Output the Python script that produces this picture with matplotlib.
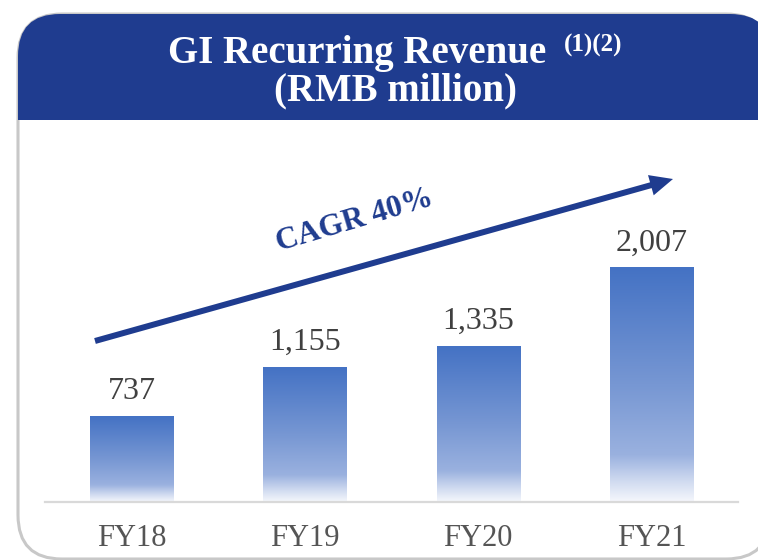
import matplotlib
matplotlib.use("Agg")
import matplotlib.pyplot as plt
import numpy as np
from matplotlib.patches import FancyBboxPatch, Rectangle, FancyArrow
from matplotlib.colors import LinearSegmentedColormap

# ---- data ----
categories = ["FY18", "FY19", "FY20", "FY21"]
revenue = [737, 1155, 1335, 2007]
title_main = "GI Recurring Revenue"
title_sup = "(1)(2)"
title_unit = "(RMB million)"
cagr_label = "CAGR 40%"

NAVY = "#1F3C8F"
SERIF = "Liberation Serif"

fig = plt.figure(figsize=(7.58, 5.60), dpi=100)

# background / decoration axes in pixel coordinates
bg = fig.add_axes([0, 0, 1, 1], zorder=0)
bg.set_xlim(0, 758)
bg.set_ylim(560, 0)
bg.axis("off")

# outer rounded gray frame
bg.add_patch(FancyBboxPatch((18, 14), 752, 545,
                            boxstyle="round,pad=0,rounding_size=44",
                            ec="#c8c8c8", fc="white", lw=2.2))
# header
bg.add_patch(FancyBboxPatch((18, 14), 754, 106,
                            boxstyle="round,pad=0,rounding_size=42",
                            ec="none", fc=NAVY))
bg.add_patch(Rectangle((18, 70), 754, 50, ec="none", fc=NAVY))

bg.text(357, 63, title_main, color="white", fontsize=28, fontweight="bold",
        family=SERIF, ha="center", va="baseline")
bg.text(564, 52, title_sup, color="white", fontsize=18, fontweight="bold",
        family=SERIF, ha="left", va="baseline")
bg.text(395, 100, title_unit, color="white", fontsize=28, fontweight="bold",
        family=SERIF, ha="center", va="baseline")

# CAGR arrow
bg.add_patch(FancyArrow(95, 341, 578, -162, width=6, head_width=21,
                        head_length=23, length_includes_head=True,
                        color=NAVY, lw=0))
bg.text(355, 221, cagr_label, color=NAVY, fontsize=22.5, fontweight="bold",
        family=SERIF, ha="center", va="center", rotation=16.5,
        rotation_mode="anchor")

# ---- bar axes ----
ax = fig.add_axes([44.8 / 758, 58 / 560, 693.4 / 758, 373.4 / 560], zorder=1)
ax.patch.set_visible(False)
for s in ax.spines.values():
    s.set_visible(False)

x = np.arange(len(categories))
width = 0.48
bars = ax.bar(x, revenue, width=width, color="none", edgecolor="none")

cmap = LinearSegmentedColormap.from_list(
    "grad",
    [(0.0, "#F5F7FC"), (0.08, "#D3DDF1"), (0.2, "#9AB1DF"),
     (0.5, "#7797D3"), (1.0, "#4472C4")])
grad = np.linspace(0, 1, 256).reshape(-1, 1)
for b in bars:
    x0 = b.get_x()
    h = b.get_height()
    ax.imshow(grad, cmap=cmap, aspect="auto", origin="lower",
              extent=(x0, x0 + b.get_width(), 0, h), zorder=2,
              interpolation="bilinear")
    ax.annotate(f"{int(h):,}", xy=(b.get_x() + b.get_width() / 2, h),
                xytext=(0, 12.5), textcoords="offset points",
                ha="center", va="baseline", fontsize=23, family=SERIF,
                color="#404040")

ax.axhline(0, color="#d9d9d9", lw=1.6, clip_on=False, zorder=3)
ax.set_xlim(-0.5, len(categories) - 0.5)
ax.set_ylim(0, 3200)
ax.set_yticks([])
ax.set_xticks(x, categories)
ax.tick_params(axis="x", length=0, pad=15.5, labelsize=22, labelcolor="#555555")
for lab in ax.get_xticklabels():
    lab.set_family(SERIF)

fig.savefig("out.png", dpi=100)
